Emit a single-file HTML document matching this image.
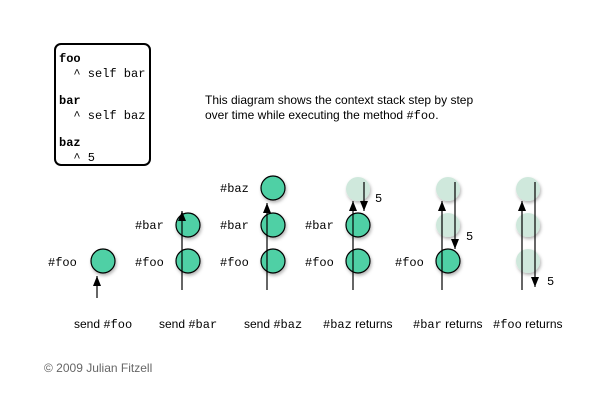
<!DOCTYPE html>
<html><head><style>
html,body{margin:0;padding:0;background:#fff;}
svg{display:block;}
.m{font-family:"Liberation Mono",monospace;font-size:12px;}
.s{font-family:"Liberation Sans",sans-serif;font-size:12px;}
</style></head><body>
<svg width="606" height="414" viewBox="0 0 606 414" xmlns="http://www.w3.org/2000/svg">
<defs>
<marker id="a" markerWidth="10" markerHeight="8" refX="10" refY="4" orient="auto" markerUnits="userSpaceOnUse" viewBox="0 0 10 8"><path d="M0,0 L10,4 L0,8 Z" fill="#000"/></marker>
<filter id="sh" x="-50%" y="-50%" width="200%" height="200%"><feDropShadow dx="1" dy="2" stdDeviation="1.5" flood-color="#000" flood-opacity="0.3"/></filter>
</defs>
<rect x="55" y="44" width="95" height="121" rx="6" fill="#fff" stroke="#000" stroke-width="2"/>
<g class="m">
<text x="59" y="62" font-weight="bold">foo</text>
<text x="59" y="77" xml:space="preserve">  ^ self bar</text>
<text x="59" y="104" font-weight="bold">bar</text>
<text x="59" y="119" xml:space="preserve">  ^ self baz</text>
<text x="59" y="146" font-weight="bold">baz</text>
<text x="59" y="161" xml:space="preserve">  ^ 5</text>
</g>
<text class="s" x="205" y="104">This diagram shows the context stack step by step</text>
<text class="s" x="205" y="119">over time while executing the method <tspan class="m">#foo</tspan>.</text>
<g stroke="#000" stroke-width="1.2" filter="url(#sh)">
<circle cx="103" cy="261" r="12" fill="#4fd0a5"/>
<circle cx="188" cy="261" r="12" fill="#4fd0a5"/>
<circle cx="188" cy="225" r="12" fill="#4fd0a5"/>
<circle cx="273" cy="261" r="12" fill="#4fd0a5"/>
<circle cx="273" cy="225" r="12" fill="#4fd0a5"/>
<circle cx="273" cy="188" r="12" fill="#4fd0a5"/>
<circle cx="358" cy="261" r="12" fill="#4fd0a5"/>
<circle cx="358" cy="225" r="12" fill="#4fd0a5"/>
<circle cx="448" cy="261" r="12" fill="#4fd0a5"/>
</g>
<g fill="#cfe8dc" filter="url(#sh)">
<circle cx="358" cy="189" r="12"/>
<circle cx="448" cy="189" r="12"/>
<circle cx="448" cy="225" r="12"/>
<circle cx="528" cy="189" r="12"/>
<circle cx="528" cy="225" r="12"/>
<circle cx="528" cy="261" r="12"/>
</g>
<g stroke="#000" stroke-width="1.2">
<line x1="97" y1="298" x2="97" y2="276" marker-end="url(#a)"/>
<line x1="182" y1="290" x2="182" y2="211" marker-end="url(#a)"/>
<line x1="267" y1="290" x2="267" y2="203" marker-end="url(#a)"/>
<line x1="353" y1="290" x2="353" y2="201" marker-end="url(#a)"/>
<line x1="364" y1="182" x2="364" y2="211" marker-end="url(#a)"/>
<line x1="442" y1="290" x2="442" y2="201" marker-end="url(#a)"/>
<line x1="455" y1="182" x2="455" y2="249" marker-end="url(#a)"/>
<line x1="522" y1="290" x2="522" y2="201" marker-end="url(#a)"/>
<line x1="535" y1="182" x2="535" y2="287" marker-end="url(#a)"/>
</g>
<g class="m">
<text x="48" y="266">#foo</text>
<text x="135" y="266">#foo</text>
<text x="135" y="229">#bar</text>
<text x="220" y="266">#foo</text>
<text x="220" y="229">#bar</text>
<text x="220" y="192">#baz</text>
<text x="305" y="266">#foo</text>
<text x="305" y="229">#bar</text>
<text x="395" y="266">#foo</text>
<text x="375" y="202">5</text>
<text x="466" y="240">5</text>
<text x="547" y="285">5</text>
</g>
<g class="s">
<text x="74" y="328">send <tspan class="m">#foo</tspan></text>
<text x="159" y="328">send <tspan class="m">#bar</tspan></text>
<text x="244" y="328">send <tspan class="m">#baz</tspan></text>
<text x="323" y="328"><tspan class="m">#baz</tspan> returns</text>
<text x="413" y="328"><tspan class="m">#bar</tspan> returns</text>
<text x="493" y="328"><tspan class="m">#foo</tspan> returns</text>
</g>
<text class="s" x="44" y="372" fill="#666" font-size="11">© 2009 Julian Fitzell</text>
</svg>
</body></html>
